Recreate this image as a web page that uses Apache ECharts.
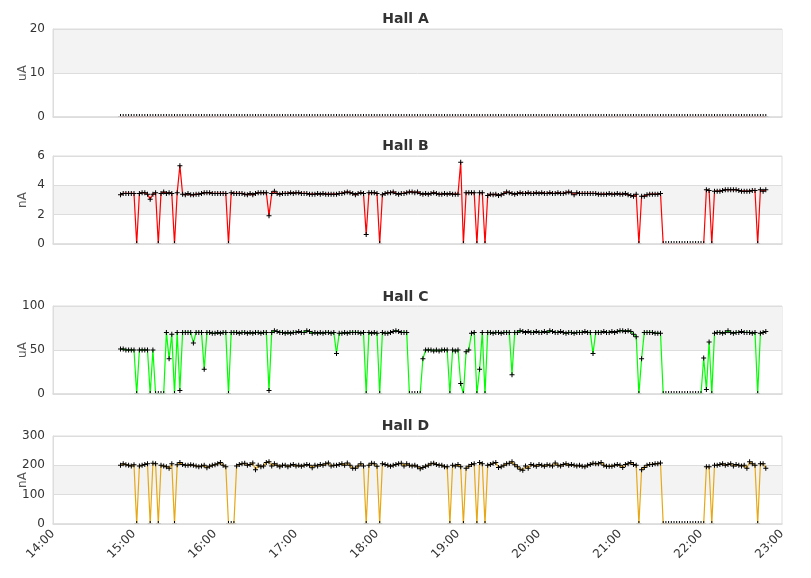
<!DOCTYPE html>
<html>
<head>
<meta charset="utf-8">
<title>Hall currents</title>
<script src="https://cdn.jsdelivr.net/npm/echarts@6/dist/echarts.min.js"></script>
<style>
    html, body { margin: 0; padding: 0; background: #fff; }
    #main { width: 811px; height: 578px; }
</style>
</head>
<body>
<div id="main"></div>
<script>
// samples every 2 minutes, first one at 14:50 (minutes since midnight)
var startMinute = 14 * 60 + 50;
var stepMinutes = 2;

var hallTitles = ['Hall A', 'Hall B', 'Hall C', 'Hall D'];
var hallUnits = ['uA', 'nA', 'uA', 'nA'];
var hallColors = ['#ff0000', '#ff0000', '#00ff00', '#e6a817'];
var yMax = [20, 6, 100, 300];
var yStep = [10, 2, 50, 100];
var xTickLabels = ['14:00', '15:00', '16:00', '17:00', '18:00', '19:00', '20:00', '21:00', '22:00', '23:00'];

var hallA = [
    0,0,0,0,0,0,0,0,0,0, 0,0,0,0,0,0,0,0,0,0,
    0,0,0,0,0,0,0,0,0,0, 0,0,0,0,0,0,0,0,0,0,
    0,0,0,0,0,0,0,0,0,0, 0,0,0,0,0,0,0,0,0,0,
    0,0,0,0,0,0,0,0,0,0, 0,0,0,0,0,0,0,0,0,0,
    0,0,0,0,0,0,0,0,0,0, 0,0,0,0,0,0,0,0,0,0,
    0,0,0,0,0,0,0,0,0,0, 0,0,0,0,0,0,0,0,0,0,
    0,0,0,0,0,0,0,0,0,0, 0,0,0,0,0,0,0,0,0,0,
    0,0,0,0,0,0,0,0,0,0, 0,0,0,0,0,0,0,0,0,0,
    0,0,0,0,0,0,0,0,0,0, 0,0,0,0,0,0,0,0,0,0,
    0,0,0,0,0,0,0,0,0,0, 0,0,0,0,0,0,0,0,0,0,
    0,0,0,0,0,0,0,0,0,0, 0,0,0,0,0,0,0,0,0,0,
    0,0,0,0,0,0,0,0,0,0, 0,0,0,0,0,0,0,0,0,0
];

var hallB = [
    3.35,3.45,3.45,3.45,3.45,3.45,0,3.45,3.5,3.5,
    3.4,3.05,3.4,3.5,0,3.45,3.55,3.45,3.5,3.45,
    0,3.5,5.34,3.4,3.35,3.45,3.35,3.35,3.4,3.4,
    3.45,3.5,3.5,3.5,3.45,3.45,3.45,3.45,3.45,3.45,
    0,3.5,3.45,3.45,3.45,3.45,3.4,3.35,3.45,3.35,
    3.45,3.5,3.5,3.5,3.5,1.93,3.45,3.6,3.45,3.4,
    3.45,3.45,3.45,3.5,3.45,3.5,3.5,3.45,3.45,3.45,
    3.4,3.4,3.4,3.45,3.4,3.45,3.4,3.4,3.4,3.4,
    3.4,3.45,3.45,3.5,3.55,3.5,3.45,3.35,3.45,3.5,
    3.45,0.64,3.5,3.5,3.5,3.45,0,3.35,3.45,3.5,
    3.5,3.55,3.45,3.4,3.45,3.45,3.5,3.55,3.55,3.5,
    3.55,3.45,3.4,3.45,3.4,3.45,3.5,3.45,3.4,3.4,
    3.45,3.4,3.45,3.4,3.4,3.4,5.57,0,3.5,3.5,
    3.5,3.5,0,3.5,3.5,0,3.3,3.4,3.35,3.4,
    3.3,3.35,3.45,3.55,3.5,3.45,3.4,3.45,3.5,3.45,
    3.45,3.5,3.45,3.45,3.5,3.45,3.5,3.45,3.45,3.5,
    3.45,3.45,3.5,3.45,3.45,3.5,3.55,3.5,3.35,3.5,
    3.45,3.45,3.45,3.45,3.45,3.45,3.45,3.4,3.4,3.4,
    3.4,3.45,3.4,3.4,3.45,3.4,3.4,3.45,3.35,3.3,
    3.25,3.4,0,3.25,3.25,3.35,3.4,3.4,3.4,3.4,
    3.45,0,0,0,0,0,0,0,0,0,
    0,0,0,0,0,0,0,3.7,3.65,0,
    3.6,3.6,3.6,3.65,3.7,3.7,3.7,3.7,3.7,3.65,
    3.6,3.6,3.6,3.6,3.65,3.65,0,3.7,3.6,3.7
];

var hallC = [
    51,51,50,50,50,50,0,50,50,50,
    50,0,50,0,0,0,0,70,40,68,
    0,70,4,70,70,70,70,58,70,70,
    70,28,70,70,69,69,70,69,70,70,
    0,70,70,70,69,70,70,69,70,69,
    70,70,69,70,70,4,70,72,71,70,
    70,69,70,69,70,70,71,70,70,72,
    71,69,70,69,70,69,70,70,69,70,
    46,69,69,70,69,70,70,70,70,69,
    70,0,70,69,70,69,0,70,69,69,
    70,71,72,71,70,70,70,0,0,0,
    0,0,40,50,50,50,49,50,49,50,
    50,50,0,50,49,50,12,0,48,50,
    69,70,0,28,70,0,70,70,69,70,
    70,69,70,70,70,22,70,70,72,71,
    70,71,70,70,71,70,70,71,70,72,
    71,70,70,71,70,69,70,70,69,70,
    70,70,71,70,70,46,70,70,70,71,
    70,70,71,70,71,72,72,71,72,71,
    68,65,0,40,70,70,70,70,69,69,
    69,0,0,0,0,0,0,0,0,0,
    0,0,0,0,0,0,41,5,59,0,
    69,70,70,69,70,72,70,69,70,70,
    71,70,70,70,69,70,0,69,70,71
];

var hallD = [
    200,205,202,200,198,202,0,198,200,203,
    205,0,207,205,0,200,198,195,190,205,
    0,202,210,203,200,200,202,200,198,195,
    198,200,192,197,200,202,205,210,200,195,
    0,0,0,198,203,205,207,200,203,208,
    185,200,195,198,210,212,198,205,200,195,
    200,200,195,200,203,198,200,197,200,203,
    200,192,200,198,203,200,205,208,198,200,
    200,203,205,200,208,200,190,190,198,205,
    198,0,200,207,205,197,0,205,203,200,
    197,200,203,205,207,198,205,200,198,200,
    195,188,193,197,200,205,207,203,200,200,
    195,195,0,200,198,203,195,0,190,197,
    203,205,0,210,205,0,200,203,207,210,
    193,195,200,205,207,212,202,195,187,183,
    198,190,203,200,197,203,200,197,202,200,
    198,208,200,198,203,205,200,203,200,198,
    200,197,195,200,203,207,205,205,210,200,
    197,197,197,200,203,200,193,203,205,210,
    203,200,0,185,193,200,203,203,205,205,
    208,0,0,0,0,0,0,0,0,0,
    0,0,0,0,0,0,0,195,195,0,
    200,200,203,205,200,203,205,198,203,200,
    198,200,190,212,205,200,0,205,205,190
];

var hallValues = [hallA, hallB, hallC, hallD];

(function(){
    var myChart = echarts.init(document.getElementById('main'));
    var font = 'DejaVu Sans';
    var gridTops = [29, 156, 306, 436];
    var titleTops = [12, 139, 290, 419];
    // small "+" marker, and its upper half for points sitting on the axis
    var cross = 'path://M-0.5,-2.5H0.5V-0.5H2.5V0.5H0.5V2.5H-0.5V0.5H-2.5V-0.5H-0.5Z';
    var halfCross = 'path://M-0.5,-2.5H0.5V-0.5H2.5V0H-2.5V-0.5H-0.5Z';

    function toItems(values) {
        return values.map(function (v, i) {
            var item = { value: [startMinute + i * stepMinutes, v] };
            if (v === 0) {
                item.symbol = halfCross;
                item.symbolSize = [5, 2.5];
                item.symbolOffset = [0, -1.75];
            }
            return item;
        });
    }

    var titles = [], grids = [], xAxes = [], yAxes = [], series = [];
    for (var k = 0; k < 4; k++) {
        var last = k === 3;
        titles.push({
            text: hallTitles[k],
            left: 'center',
            top: titleTops[k],
            padding: 0,
            textStyle: { fontFamily: font, fontSize: 14, fontWeight: 'bold', color: '#333' }
        });
        grids.push({
            left: 53, right: 29, top: gridTops[k], height: 88,
            show: true, borderColor: '#ddd', borderWidth: 1
        });
        xAxes.push({
            type: 'value',
            gridIndex: k,
            min: 840, max: 1380, interval: 60,
            z: 3,
            axisLine: { show: true, lineStyle: { color: '#ddd', width: 1.5 } },
            axisTick: { show: false },
            splitLine: { show: false },
            axisLabel: {
                show: last,
                rotate: 45,
                margin: 8,
                fontFamily: font, fontSize: 12, color: '#333',
                formatter: function (v) {
                    return xTickLabels[Math.round((v - 840) / 60)];
                }
            }
        });
        yAxes.push({
            type: 'value',
            gridIndex: k,
            min: 0, max: yMax[k], interval: yStep[k],
            name: hallUnits[k],
            nameLocation: 'middle',
            nameGap: 24,
            nameMoveOverlap: false,
            nameTextStyle: { fontFamily: font, fontSize: 12, color: '#555' },
            axisLine: { show: true, lineStyle: { color: '#ddd' } },
            axisTick: { show: false },
            axisLabel: { margin: 8, fontFamily: font, fontSize: 12, color: '#333' },
            splitLine: { show: true, lineStyle: { color: '#ddd' } },
            splitArea: { show: true, areaStyle: { color: ['rgba(255,255,255,0)', '#f3f3f3'] } }
        });
        series.push({
            name: hallTitles[k],
            type: 'line',
            xAxisIndex: k,
            yAxisIndex: k,
            z: 2,
            data: toItems(hallValues[k]),
            symbol: cross,
            symbolSize: 5,
            showSymbol: true,
            itemStyle: { color: '#000' },
            lineStyle: { color: hallColors[k], width: 1.2 },
            emphasis: { disabled: true }
        });
    }

    var option = {
        animation: false,
        backgroundColor: '#fff',
        title: titles,
        grid: grids,
        xAxis: xAxes,
        yAxis: yAxes,
        series: series
    };
    myChart.setOption(option);
})();
</script>
</body>
</html>
